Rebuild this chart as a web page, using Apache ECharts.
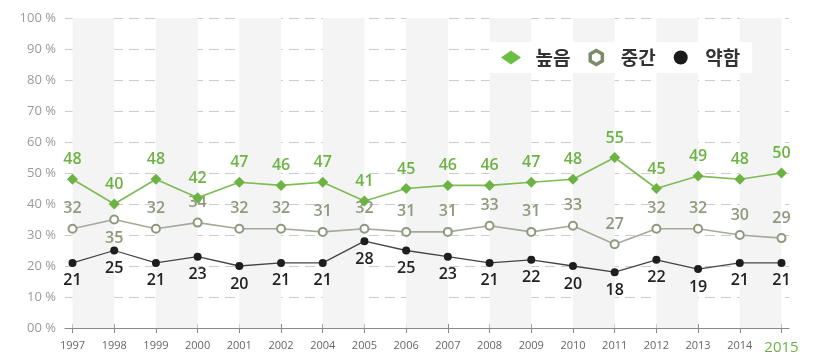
<!DOCTYPE html>
<html><head><meta charset="utf-8">
<script src="https://cdn.jsdelivr.net/npm/echarts@6/dist/echarts.min.js"></script>
<style>html,body{margin:0;padding:0;background:#fff}#c{width:816px;height:358px}</style>
</head><body><div id="c"></div>
<script>
const years = ['1997','1998','1999','2000','2001','2002','2004','2005','2006','2007','2008','2009','2010','2011','2012','2013','2014','2015'];
const high = [48,40,48,42,47,46,47,41,45,46,46,47,48,55,45,49,48,50];
const mid  = [32,35,32,34,32,32,31,32,31,31,33,31,33,27,32,32,30,29];
const low  = [21,25,21,23,20,21,21,28,25,23,21,22,20,18,22,19,21,21];
const yTicks = [0,10,20,30,40,50,60,70,80,90,100];
const names = ['높음','중간','약함'];

const idx = years.map((_, i) => i);
const pairs = arr => arr.map((v, i) => [i, v]);
const bands = [];
for (let i = 0; i + 1 < years.length; i += 2) bands.push([{xAxis: i}, {xAxis: i + 1}]);

const chart = echarts.init(document.getElementById('c'));
const num = 'Open Sans, Noto Sans, sans-serif';
const hex = 'path://M50,0 L93.3,25 L93.3,75 L50,100 L6.7,75 L6.7,25 Z';
const xCommon = {type: 'value', min: -0.18, max: years.length - 1 + 0.18, splitLine: {show: false}};
chart.setOption({
  animation: false,
  grid: {left: 65, right: 27, top: 18, bottom: 30},
  legend: {
    data: [
      {name: names[0], icon: 'diamond', itemStyle: {color: '#6cbf45'}},
      {name: names[1], icon: hex, itemStyle: {color: '#fff', borderColor: '#7a8c6a', borderWidth: 3.5}},
      {name: names[2], icon: 'circle', itemStyle: {color: '#1a1a1a'}}
    ],
    left: 489, top: 42, itemWidth: 20, itemHeight: 14, itemGap: 18,
    backgroundColor: '#fff', padding: [6, 12, 6, 12],
    formatter: function (n) { return '\u2002' + n; },
    textStyle: {fontFamily: 'Noto Sans CJK KR', fontSize: 19, fontWeight: 'bold', color: '#333'}
  },
  xAxis: [Object.assign({}, xCommon, {
    axisLine: {lineStyle: {color: '#8a8a8a', width: 1.2}},
    axisTick: {customValues: idx, length: 5, lineStyle: {color: '#8a8a8a'}},
    axisLabel: {customValues: idx, margin: 12, color: '#666', fontSize: 11, fontFamily: num,
      formatter: v => v === years.length - 1 ? '{hl|' + years[v] + '}' : years[v],
      rich: {hl: {color: '#6cb344', fontSize: 15, fontFamily: num}}}
  }), Object.assign({}, xCommon, {
    position: 'bottom', axisLine: {show: false},
    axisTick: {customValues: idx, inside: true, length: 4, lineStyle: {color: '#8a8a8a'}},
    axisLabel: {show: false}
  })],
  yAxis: {
    type: 'value', min: 0, max: 100, interval: 10,
    axisLine: {show: false}, axisTick: {show: false},
    axisLabel: {customValues: yTicks, margin: 9, color: '#9a9a9a', fontSize: 13, fontFamily: num,
      formatter: v => (v === 0 ? '00' : v) + ' %'},
    splitLine: {lineStyle: {color: '#cccccc', type: [10, 6], width: 1.2}}
  },
  series: [
    {type: 'line', name: 'bands', data: [], z: 0, silent: true,
      markArea: {silent: true, itemStyle: {color: '#f4f4f4'}, label: {show: false}, data: bands}},
    {type: 'line', name: names[0], data: pairs(high), z: 5,
      symbol: 'diamond', symbolSize: 11,
      itemStyle: {color: '#6cb344'}, lineStyle: {color: '#7cbc55', width: 1.6},
      label: {show: true, position: 'top', distance: 6, color: '#6cb344', fontSize: 16, fontWeight: 600, fontFamily: num, formatter: p => p.value[1]}},
    {type: 'line', name: names[1], data: pairs(mid).map((d, i) => i === 1 ? {value: d, label: {position: 'bottom', distance: 6}} : d), z: 4,
      symbol: 'emptyCircle', symbolSize: 8,
      itemStyle: {color: '#8d9a7e', borderWidth: 2}, lineStyle: {color: '#a3ab98', width: 1.6},
      label: {show: true, position: 'top', distance: 7, color: '#8d9a7e', fontSize: 16, fontWeight: 600, fontFamily: num, formatter: p => p.value[1]}},
    {type: 'line', name: names[2], data: pairs(low), z: 3,
      symbol: 'circle', symbolSize: 8,
      itemStyle: {color: '#1e1e1e'}, lineStyle: {color: '#444', width: 1.3},
      label: {show: true, position: 'bottom', distance: 6, color: '#222', fontSize: 16, fontWeight: 600, fontFamily: num, formatter: p => p.value[1]}}
  ]
});
</script></body></html>
